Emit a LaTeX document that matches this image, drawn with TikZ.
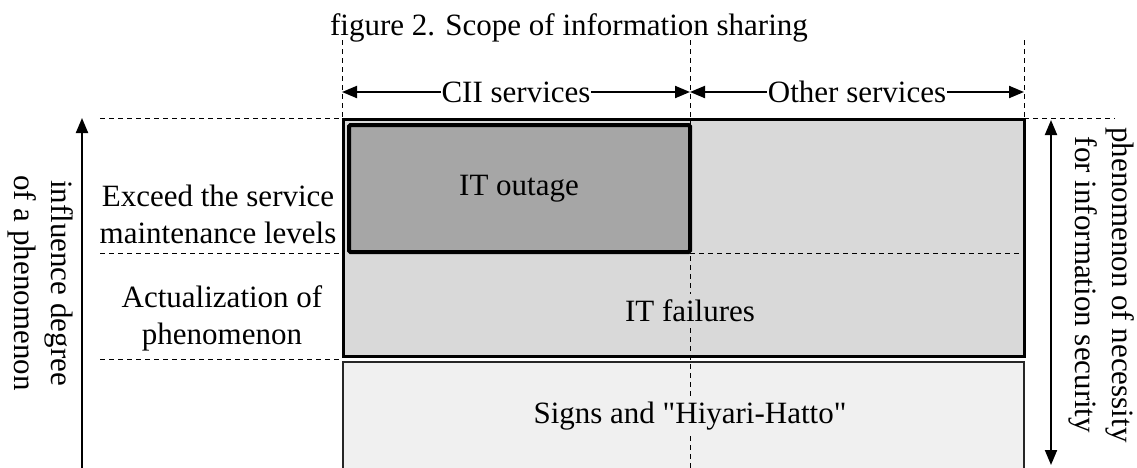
\documentclass[tikz,border=0pt]{standalone}
\usepackage{fontspec}
\setmainfont[Ligatures=TeXOff]{Liberation Serif}
\usetikzlibrary{arrows.meta}
\definecolor{midgray}{HTML}{D9D9D9}
\definecolor{darkgray}{HTML}{A6A6A6}
\definecolor{lightgray}{HTML}{F0F0F0}
\tikzset{
  txt/.style={font=\fontsize{31}{37}\selectfont, inner sep=2pt, align=center},
  dashln/.style={dash pattern=on 5pt off 4pt, line width=1pt},
  dimarrow/.style={line width=2pt, {Triangle[length=15pt,width=12pt]}-{Triangle[length=15pt,width=12pt]}},
  uparrow/.style={line width=2pt, -{Triangle[length=15pt,width=12pt]}},
}
\begin{document}
\begin{tikzpicture}[x=1pt,y=-1pt]
\useasboundingbox (0,0) rectangle (1137,467);
\clip (0,0) rectangle (1137,467);
% boxes
\draw[fill=midgray, line width=3pt] (343,119) rectangle (1024,356);
\draw[fill=darkgray, line width=4pt, rounded corners=1.5pt] (349,125) rectangle (690,252);
\draw[fill=lightgray, line width=1.5pt, draw=black!85] (343,362) rectangle (1024,490);
% guide coordinates
\coordinate (vl) at (342,40);  \coordinate (vlb) at (342,118);
\coordinate (vm) at (690,40);  \coordinate (vmb) at (690,470);
\coordinate (vr) at (1024,40); \coordinate (vrb) at (1024,118);
\coordinate (h1a) at (100,118); \coordinate (h1b) at (342,118);
\coordinate (h1c) at (1024,118); \coordinate (h1d) at (1115,118);
\coordinate (h2a) at (100,253); \coordinate (h2b) at (342,253);
\coordinate (h2c) at (690,253); \coordinate (h2d) at (1024,253);
\coordinate (h3a) at (100,359); \coordinate (h3b) at (342,359);
% dashed guides
\draw[dashln] (vl) -- (vlb);
\draw[dashln] (vm) -- (vmb);
\draw[dashln] (vr) -- (vrb);
\draw[dashln] (h1a) -- (h1b);
\draw[dashln] (h1c) -- (h1d);
\draw[dashln] (h2a) -- (h2b);
\draw[dashln] (h2c) -- (h2d);
\draw[dashln] (h3a) -- (h3b);
% dimension arrows
\coordinate (d1) at (342,92); \coordinate (d2) at (690,92); \coordinate (d3) at (1024,92);
\draw[dimarrow] (d1) -- node[txt, fill=white, inner sep=1pt] (cii) {CII services} (d2);
\draw[dimarrow] (d2) -- node[txt, fill=white, inner sep=1pt] (oth) {Other services} (d3);
% vertical arrows
\coordinate (la) at (82,470); \coordinate (lb) at (82,118);
\draw[uparrow] (la) -- (lb);
\coordinate (ra) at (1051,120); \coordinate (rb) at (1051,465);
\draw[dimarrow] (ra) -- (rb);
% texts
\node[txt] (title) at (569,28) {figure 2. Scope of information sharing};
\node[txt] (outage) at (519,189) {IT outage};
\node[txt, fill=midgray, inner sep=6pt] (fail) at (690,311) {IT failures};
\node[txt, fill=lightgray, inner sep=6pt] (signs) at (690,416) {Signs and "Hiyari-Hatto"};
\node[txt] (exceed) at (218,214) {Exceed the service\\maintenance levels};
\node[txt] (actual) at (222,318) {Actualization of\\phenomenon};
\node[txt, rotate=-90] (infl) at (41,283) {influence degree\\of a phenomenon};
\node[txt, rotate=-90] (neces) at (1102,285) {phenomenon of necessity\\for information security};
\end{tikzpicture}
\end{document}
